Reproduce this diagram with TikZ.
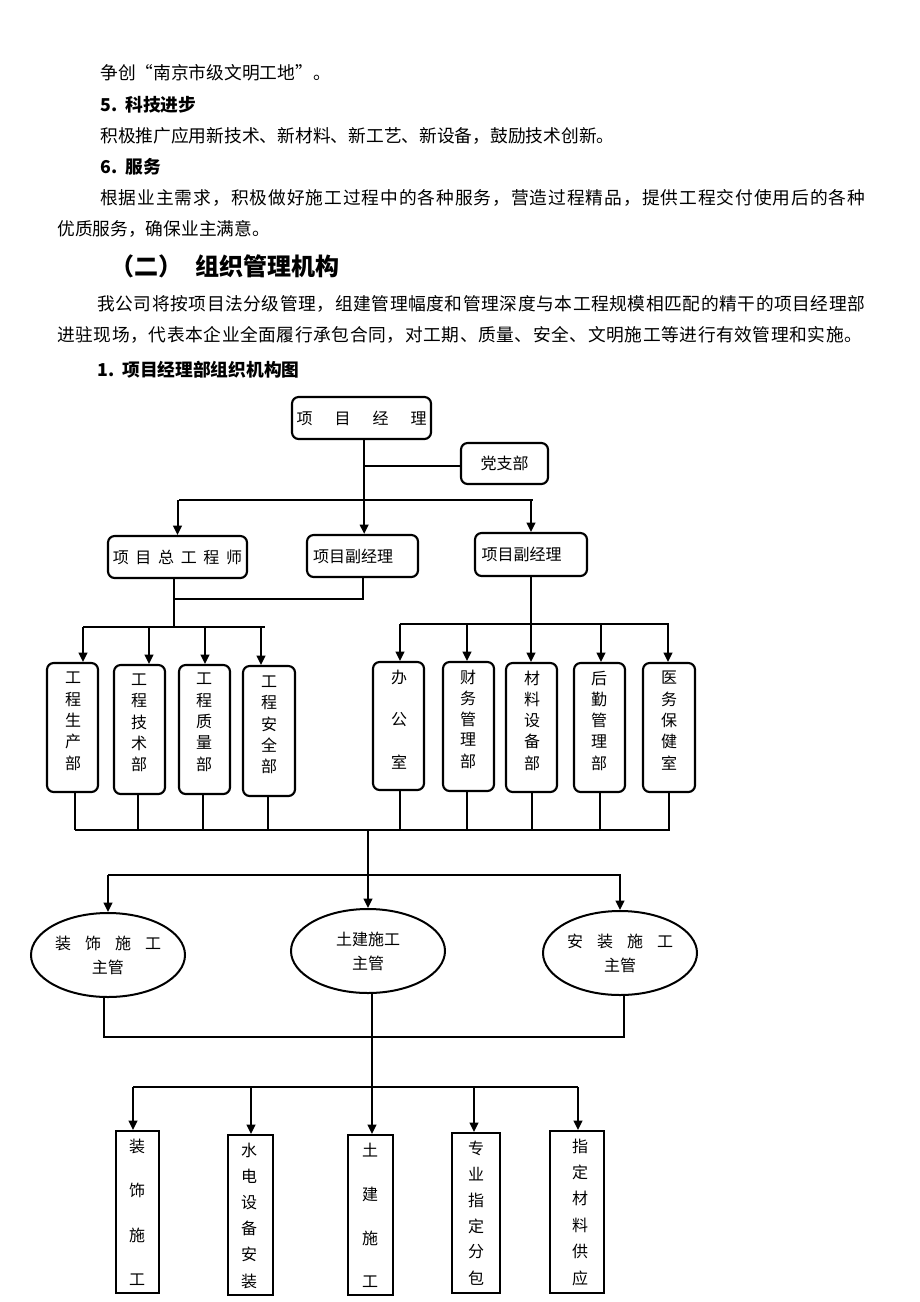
\documentclass[tikz,border=0pt]{standalone}
\usepackage{fontspec}
\setmainfont{Noto Sans CJK SC}
\usetikzlibrary{arrows.meta,shapes.geometric}
\ExplSyntaxOn
\NewDocumentCommand\jline{mm}{\hbox_to_wd:nn {#1} { \tl_map_inline:nn {#2} { ##1 \hskip 0pt plus 1fil } \unskip }}
\ExplSyntaxOff
\newcommand\vchars[5]{\foreach \c [count=\i] in {#5} {\node[chr] (#1-\i) at (#2,{#3+(\i-1)*#4}) {\c};}}
\begin{document}
\begin{tikzpicture}[x=0.75pt,y=-0.75pt,
 bt/.style={anchor=west,inner sep=0pt,font=\fontsize{13.3}{16}\selectfont},
 bth/.style={anchor=west,inner sep=0pt,font=\fontsize{13.3}{16}\selectfont\bfseries},
 rb/.style={draw,line width=1.6pt,rounded corners=5pt,inner sep=0pt},
 sb/.style={draw,line width=1.6pt,inner sep=0pt},
 sz/.style 2 args={minimum width=#1*0.75pt,minimum height=#2*0.75pt},
 el/.style={ellipse,draw,line width=1.5pt,inner sep=0pt,align=center,font=\fontsize{12}{18}\selectfont},
 chr/.style={inner sep=0pt,font=\fontsize{12}{14}\selectfont},
 conn/.style={line width=1.5pt},
 arr/.style={conn,-{Triangle[length=7pt,width=6.5pt]}}]
\useasboundingbox (0,0) rectangle (920,1302);
\fill[white] (0,0) rectangle (920,1302);

% ---- body text ----
\node[bt] (l1) at (100,73) {争创“南京市级文明工地”。};
\node[bth] (l2) at (100,105) {5.\hspace{6pt}科技进步};
\node[bt] (l3) at (100,136) {积极推广应用新技术、新材料、新工艺、新设备，鼓励技术创新。};
\node[bth] (l4) at (100,167) {6.\hspace{6pt}服务};
\node[bt] (l5) at (100,198) {\jline{573.75pt}{根据业主需求，积极做好施工过程中的各种服务，营造过程精品，提供工程交付使用后的各种}};
\node[bt] (l6) at (57,229) {优质服务，确保业主满意。};
\node[anchor=west,inner sep=0pt,font=\fontsize{18}{22}\selectfont\bfseries] (l7) at (110,266) {（二）\hspace{10pt}组织管理机构};
\node[bt] (l8) at (97,304) {\jline{576pt}{我公司将按项目法分级管理，组建管理幅度和管理深度与本工程规模相匹配的精干的项目经理部}};
\node[bt] (l9) at (57,335) {\jline{603.75pt}{进驻现场，代表本企业全面履行承包合同，对工期、质量、安全、文明施工等进行有效管理和实施。}};
\node[bth] (l10) at (97,370) {1.\hspace{6pt}项目经理部组织机构图};

% ---- top boxes ----
\node[rb,sz={139}{42},chr] (pm) at (361.5,418) {项\hspace{16.5pt}目\hspace{16.5pt}经\hspace{16.5pt}理};
\node[rb,sz={87}{41},chr] (party) at (504.5,463.5) {党支部};
\node[rb,sz={139}{42},chr] (ce) at (177.5,557) {项\hspace{5pt}目\hspace{5pt}总\hspace{5pt}工\hspace{5pt}程\hspace{5pt}师};
\node[rb,sz={111}{42},chr] (dep1) at (362.5,556) {项目副经理\kern14pt};
\node[rb,sz={112}{43},chr] (dep2) at (531,554.5) {项目副经理\kern14pt};

% ---- department boxes ----
\node[rb,sz={51}{129}] (b1) at (72.5,727.5) {};
\node[rb,sz={51}{129}] (b2) at (139.5,729.5) {};
\node[rb,sz={51}{129}] (b3) at (204.5,729.5) {};
\node[rb,sz={52}{130}] (b4) at (269,731) {};
\node[rb,sz={51}{128}] (r1) at (398.5,726) {};
\node[rb,sz={51}{129}] (r2) at (468.5,726.5) {};
\node[rb,sz={51}{129}] (r3) at (531.5,727.5) {};
\node[rb,sz={51}{129}] (r4) at (599.5,727.5) {};
\node[rb,sz={52}{129}] (r5) at (669,727.5) {};
\vchars{tb1}{73}{678}{21.25}{工,程,生,产,部}
\vchars{tb2}{139}{680}{21}{工,程,技,术,部}
\vchars{tb3}{204}{679}{21.25}{工,程,质,量,部}
\vchars{tb4}{269}{682}{21}{工,程,安,全,部}
\vchars{tr1}{399}{677}{42.5}{办,公,室}
\vchars{tr2}{468}{677}{21}{财,务,管,理,部}
\vchars{tr3}{532}{678}{21.25}{材,料,设,备,部}
\vchars{tr4}{599}{678}{21.25}{后,勤,管,理,部}
\vchars{tr5}{669}{678}{21.25}{医,务,保,健,室}

% ---- ellipses ----
\node[el,sz={154}{84}] (e1) at (108,955) {装\hspace{10.5pt}饰\hspace{10.5pt}施\hspace{10.5pt}工\\主管};
\node[el,sz={154}{84}] (e2) at (368,951) {土建施工\\主管};
\node[el,sz={154}{84}] (e3) at (620,953) {安\hspace{10.5pt}装\hspace{10.5pt}施\hspace{10.5pt}工\\主管};

% ---- bottom boxes ----
\node[sb,sz={43}{162}] (s1) at (137.5,1212) {};
\node[sb,sz={45}{160}] (s2) at (250.5,1215) {};
\node[sb,sz={45}{160}] (s3) at (370.5,1215) {};
\node[sb,sz={48}{160}] (s4) at (476,1213) {};
\node[sb,sz={54}{162}] (s5) at (577,1212) {};
\vchars{ts1}{137}{1146}{44.7}{装,饰,施,工}
\vchars{ts2}{249}{1150}{26.2}{水,电,设,备,安,装}
\vchars{ts3}{370}{1150}{44}{土,建,施,工}
\vchars{ts4}{476}{1148}{26}{专,业,指,定,分,包}
\vchars{ts5}{580}{1146}{26.4}{指,定,材,料,供,应}

% ---- connectors ----
\draw[arr] ([xshift=2pt]pm.south) -- ([xshift=2pt]pm.south |- dep1.north);
\draw[conn] ([xshift=2pt]pm.south |- 0,466) -- (party.west |- 0,466);
\coordinate (t1) at (179,500); \coordinate (t2) at (533,500);
\draw[conn] (t1) -- (t2);
\draw[arr] (ce.north |- t1) -- (ce.north);
\draw[arr] (dep2.north |- t1) -- (dep2.north);
\coordinate (m1) at (174,599); \coordinate (m2) at (174,627);
\draw[conn] (ce.south -| m1) -- (m2);
\draw[conn] (m1) -- (m1 -| dep1.south) -- (dep1.south);
\coordinate (lb1) at (83,627); \coordinate (lb2) at (265,627);
\draw[conn] (lb1) -- (lb2);
\draw[arr] (lb1) -- (b1.north -| lb1);
\draw[arr] (149,627) -- (b2.north -| 149,627);
\draw[arr] (205,627) -- (b3.north -| 205,627);
\draw[arr] (261,627) -- (b4.north -| 261,627);
\coordinate (rb1) at (400,624); \coordinate (rb2) at (669,624);
\draw[conn] (rb1) -- (rb2);
\draw[arr] (dep2.south) -- (dep2.south |- r3.north);
\draw[arr] (rb1) -- (r1.north -| rb1);
\draw[arr] (467,624) -- (r2.north -| 467,624);
\draw[arr] (601,624) -- (r4.north -| 601,624);
\draw[arr] (668,624) -- (r5.north -| 668,624);
% down to bar 830
\coordinate (db1) at (75,830); \coordinate (db2) at (670,830);
\draw[conn] (db1) -- (db2);
\draw[conn] (b1.south -| 75,0) -- (75,830);
\draw[conn] (b2.south -| 138,0) -- (138,830);
\draw[conn] (b3.south -| 203,0) -- (203,830);
\draw[conn] (b4.south -| 268,0) -- (268,830);
\draw[conn] (r1.south -| 400,0) -- (400,830);
\draw[conn] (r2.south -| 467,0) -- (467,830);
\draw[conn] (r3.south -| 532,0) -- (532,830);
\draw[conn] (r4.south -| 600,0) -- (600,830);
\draw[conn] (r5.south -| 669,0) -- (669,830);
% to ellipses
\draw[arr] (e2.north |- db1) -- (e2.north);
\coordinate (eb1) at (108,875); \coordinate (eb2) at (621,875);
\draw[conn] (eb1) -- (eb2);
\draw[arr] (e1.north |- eb1) -- (e1.north);
\draw[arr] (e3.north |- eb1) -- (e3.north);
% from ellipses
\coordinate (fb) at (0,1037);
\draw[conn] ([xshift=-3pt]e1.south) -- ([xshift=-3pt]e1.south |- fb) -- ([xshift=3pt]e3.south |- fb) -- ([xshift=3pt]e3.south);
\draw[arr] ([xshift=3pt]e2.south) -- ([xshift=3pt]e2.south |- s3.north);
\coordinate (gb1) at (133,1087); \coordinate (gb2) at (578,1087);
\draw[conn] (gb1) -- (gb2);
\draw[arr] (gb1) -- (s1.north -| gb1);
\draw[arr] (251,1087) -- (s2.north -| 251,1087);
\draw[arr] (474,1087) -- (s4.north -| 474,1087);
\draw[arr] (gb2) -- (s5.north -| gb2);
\end{tikzpicture}
\end{document}
